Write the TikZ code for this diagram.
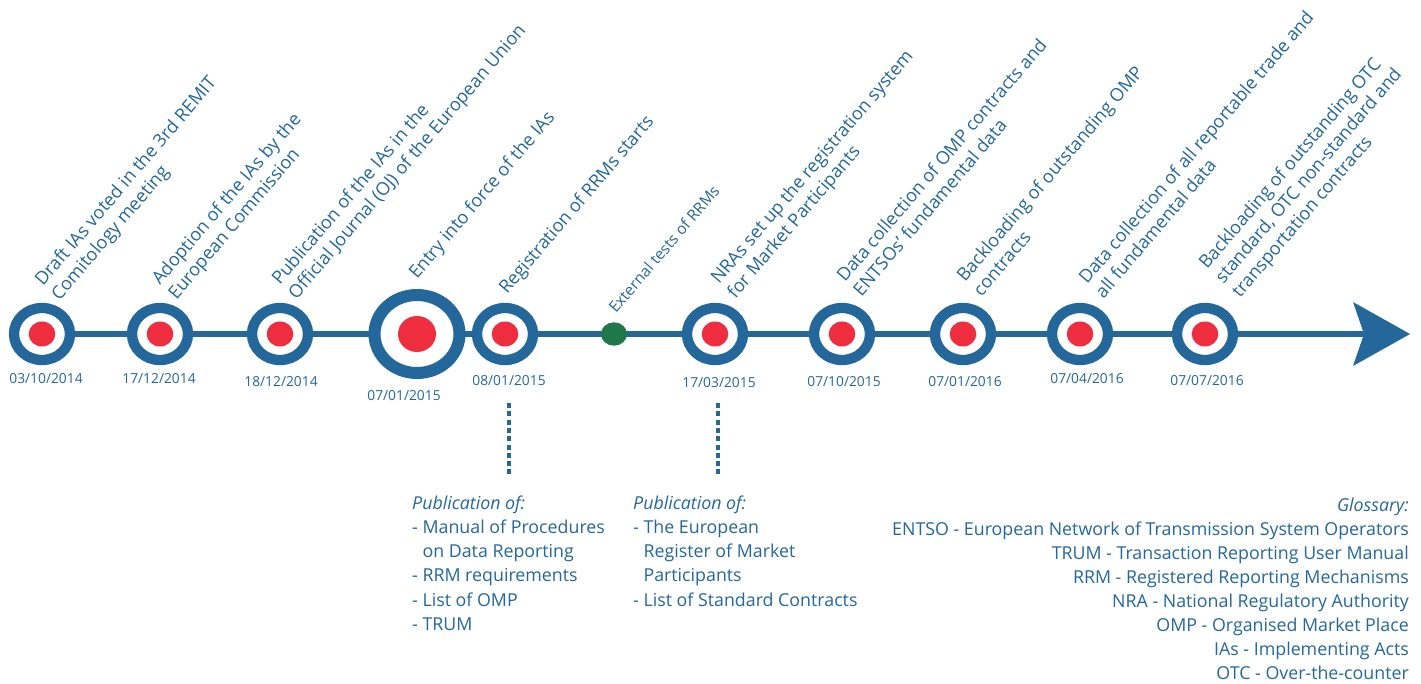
\documentclass[tikz,border=0pt]{standalone}
\usepackage{fontspec}
\setmainfont{Open Sans}
\usetikzlibrary{calc,shapes.geometric}
\definecolor{tlblue}{HTML}{23679B}
\definecolor{tlred}{HTML}{EE2D3E}
\definecolor{tlgreen}{HTML}{1F784A}
\begin{document}
\begin{tikzpicture}[x=1pt,y=-1pt,
  lbl/.style={rotate=49.5, anchor=base west, inner sep=0, outer sep=0, text=tlblue,
    font=\fontsize{18.1}{21.8}\selectfont},
  smalllbl/.style={lbl, font=\fontsize{15.5}{18}\selectfont},
  datelbl/.style={anchor=base, inner sep=0, text=tlblue, font=\fontsize{13.8}{16}\selectfont},
  ms/.style={ellipse, draw=tlblue, line width=10.3pt, fill=white, minimum width=56pt,
    minimum height=52pt, inner sep=0, outer sep=0},
  bigms/.style={ms, line width=12pt, minimum width=85pt, minimum height=78pt},
  greendot/.style={ellipse, fill=tlgreen, minimum width=26pt, minimum height=23.4pt, inner sep=0, outer sep=0},
  tlline/.style={draw=tlblue, line width=6pt},
  dotline/.style={draw=tlblue, line width=3.5pt, dash pattern=on 5pt off 3.3pt},
  block/.style={anchor=base west, inner sep=0, text=tlblue, font=\fontsize{17.8}{24.3}\selectfont},
  gloss/.style={anchor=base east, inner sep=0, text=tlblue, font=\fontsize{17.8}{24.1}\selectfont}
]
\useasboundingbox (0,0) rectangle (1421,684);

% timeline connectors (drawn below the milestones)
\coordinate (tip) at (1410,334);
\coordinate (notch) at (1364,334);
\coordinate (a1) at (42,334);
\draw[tlline] (a1) -- (notch);
\fill[tlblue] (tip) -- ($(tip)+(-57,-32)$) -- (notch) -- ($(tip)+(-57,32)$) -- cycle;

% milestones
\node[ms] (m1) at (42,334) {};
\node[ms] (m2) at (160,334) {};
\node[ms] (m3) at (280,334) {};
\node[bigms] (m4) at (417,334) {};
\node[ms] (m5) at (505,334) {};
\node[greendot] (g1) at (614,334) {};
\node[ms] (m6) at (715,334) {};
\node[ms] (m7) at (842,334) {};
\node[ms] (m8) at (963,334) {};
\node[ms] (m9) at (1080,334) {};
\node[ms] (m10) at (1205,334) {};
\foreach \m in {m1,m2,m3,m5,m6,m7,m8,m9,m10}
  \fill[tlred] (\m.center) ellipse [x radius=13.3pt, y radius=12.5pt];
\fill[tlred] (m4.center) ellipse [x radius=19pt, y radius=18pt];

% dates
\node[datelbl] (d1) at (46,384) {03/10/2014};
\node[datelbl] (d2) at (159,384) {17/12/2014};
\node[datelbl] (d3) at (281,386) {18/12/2014};
\node[datelbl] (d4) at (404,400.5) {07/01/2015};
\node[datelbl] (d5) at (509,385) {08/01/2015};
\node[datelbl] (d6) at (719,387) {17/03/2015};
\node[datelbl] (d7) at (844,386) {07/10/2015};
\node[datelbl] (d8) at (965,386) {07/01/2016};
\node[datelbl] (d9) at (1087,384) {07/04/2016};
\node[datelbl] (d10) at (1207,385) {07/07/2016};

% diagonal labels
\node[lbl] (l1) at (43,287) {\begin{tabular}[t]{@{}l@{}}Draft IAs voted in the 3rd REMIT\\Comitology meeting\end{tabular}};
\node[lbl] (l2) at (160,286) {\begin{tabular}[t]{@{}l@{}}Adoption of the IAs by the\\European Commission\end{tabular}};
\node[lbl] (l3) at (280,286) {\begin{tabular}[t]{@{}l@{}}Publication of the IAs in the\\Official Journal (OJ) of the European Union\end{tabular}};
\node[lbl] (l4) at (417,280) {\begin{tabular}[t]{@{}l@{}}Entry into force of the IAs\end{tabular}};
\node[lbl] (l5) at (507,295) {\begin{tabular}[t]{@{}l@{}}Registration of RRMs starts\end{tabular}};
\node[smalllbl] (l6) at (616,314) {\begin{tabular}[t]{@{}l@{}}External tests of RRMs\end{tabular}};
\node[lbl] (l7) at (719,285) {\begin{tabular}[t]{@{}l@{}}NRAs set up the registration system\\for Market Participants\end{tabular}};
\node[lbl] (l8) at (845,283) {\begin{tabular}[t]{@{}l@{}}Data collection of OMP contracts and\\ENTSOs’ fundamental data\end{tabular}};
\node[lbl] (l9) at (965,283) {\begin{tabular}[t]{@{}l@{}}Backloading of outstanding OMP\\contracts\end{tabular}};
\node[lbl] (l10) at (1087,285) {\begin{tabular}[t]{@{}l@{}}Data collection of all reportable trade and\\all fundamental data\end{tabular}};
\node[lbl] (l11) at (1207,270) {\begin{tabular}[t]{@{}l@{}}Backloading of outstanding OTC\\standard, OTC non-standard and\\transportation contracts\end{tabular}};

% dotted connectors
\coordinate (p1top) at (509,403);
\coordinate (p1bot) at (509,477);
\coordinate (p2top) at (718,403);
\coordinate (p2bot) at (718,477);
\draw[dotline] (p1top) -- (p1bot);
\draw[dotline] (p2top) -- (p2bot);

% publication blocks
\node[block] (b1) at (412,509) {\begin{tabular}[t]{@{}l@{}}\textit{Publication of:}\\- Manual of Procedures\\\hphantom{- }on Data Reporting\\- RRM requirements\\- List of OMP\\- TRUM\end{tabular}};
\node[block] (b2) at (633,509) {\begin{tabular}[t]{@{}l@{}}\textit{Publication of:}\\- The European\\\hphantom{- }Register of Market\\\hphantom{- }Participants\\- List of Standard Contracts\end{tabular}};

% glossary
\node[gloss] (gl) at (1409,511) {\begin{tabular}[t]{@{}r@{}}\textit{Glossary:}\\ENTSO - European Network of Transmission System Operators\\TRUM - Transaction Reporting User Manual\\RRM - Registered Reporting Mechanisms\\NRA - National Regulatory Authority\\OMP - Organised Market Place\\IAs - Implementing Acts\\OTC - Over-the-counter\end{tabular}};
\end{tikzpicture}
\end{document}
